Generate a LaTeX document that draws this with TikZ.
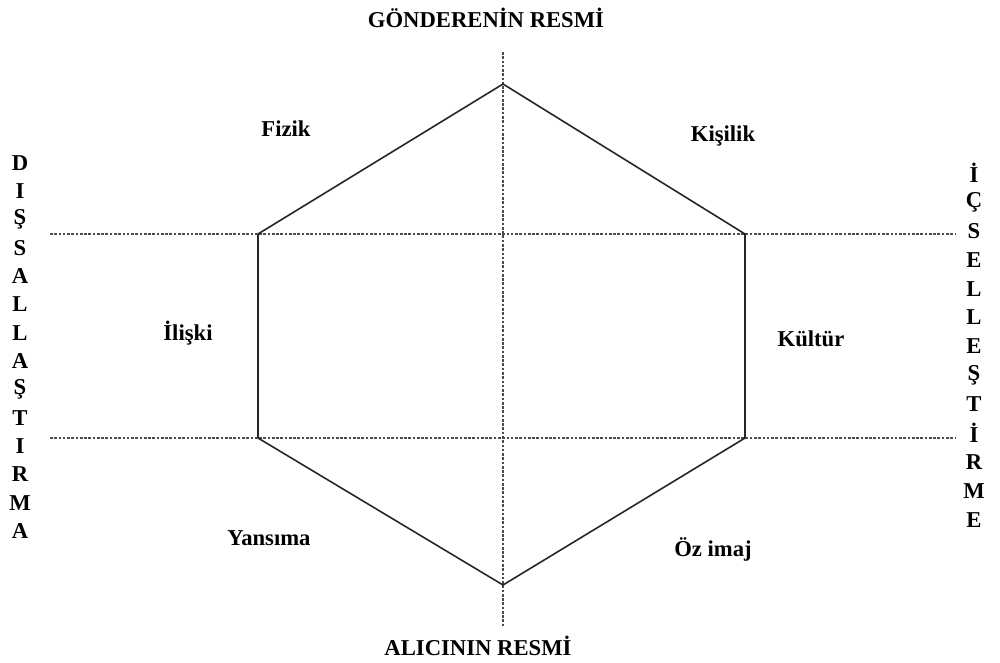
\documentclass[tikz,border=0pt]{standalone}
\usepackage{fontspec}
\setmainfont{Liberation Serif}
\begin{document}
\begin{tikzpicture}[x=0.75pt,y=-0.75pt,
  lbl/.style={font=\fontsize{17}{20}\selectfont\bfseries, inner sep=0pt, text=black},
  hexline/.style={line width=1.2pt, draw=black!85, line join=miter},
  guide/.style={line width=0.9pt, dash pattern=on 2pt off 1.2pt, draw=black!70}]
\useasboundingbox (0,0) rectangle (1000,662);
% hexagon corners
\coordinate (T) at (503,84);
\coordinate (UR) at (745,234);
\coordinate (LR) at (745,438);
\coordinate (B) at (503,585);
\coordinate (LL) at (258,438);
\coordinate (UL) at (258,234);
% guide line ends
\coordinate (h1l) at (50,234);
\coordinate (h1r) at (956,234);
\coordinate (h2l) at (50,438);
\coordinate (h2r) at (956,438);
\coordinate (vt) at (503,52);
\coordinate (vb) at (503,626);
\draw[guide] (h1l) -- (h1r);
\draw[guide] (h2l) -- (h2r);
\draw[guide] (vt) -- (vb);
\draw[hexline] (T) -- (UR) -- (LR) -- (B) -- (LL) -- (UL) -- cycle;
% titles
\node[lbl] (top) at (486,18) {GÖNDERENİN RESMİ};
\node[lbl] (bot) at (478,646) {ALICININ RESMİ};
% region labels
\node[lbl] (fizik) at (286,129) {Fizik};
\node[lbl] (kisilik) at (723,136) {Kişilik};
\node[lbl] (iliski) at (188,333) {İlişki};
\node[lbl] (kultur) at (811,339) {Kültür};
\node[lbl] (yansima) at (269,538) {Yansıma};
\node[lbl] (ozimaj) at (713,549) {Öz imaj};
% vertical words
\foreach \c [count=\i from 0] in {D,I,Ş,S,A,L,L,A,Ş,T,I,R,M,A}
  \node[lbl] (l\i) at (20,{163+\i*28.3}) {\c};
\foreach \c [count=\i from 0] in {İ,Ç,S,E,L,L,E,Ş,T,İ,R,M,E}
  \node[lbl] (r\i) at (974,{173+\i*28.9}) {\c};
\end{tikzpicture}
\end{document}
